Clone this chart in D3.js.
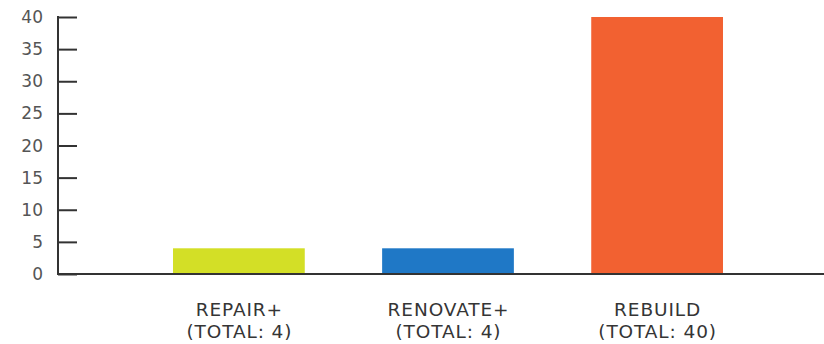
<!DOCTYPE html>
<html>
<head>
<meta charset="utf-8">
<script src="https://cdn.jsdelivr.net/npm/d3@7"></script>
<style>
  html, body { margin: 0; padding: 0; background: #fff; }
  svg { display: block; font-family: 'DejaVu Sans', sans-serif; }
</style>
</head>
<body>
<div id="chart"></div>
<script>
const categories = ['REPAIR+', 'RENOVATE+', 'REBUILD'];
const totals = [4, 4, 40];
const colors = ['#d3df26', '#1f78c6', '#f26131'];
const yTicks = [0, 5, 10, 15, 20, 25, 30, 35, 40];

const width = 824, height = 344;
const margin = { top: 17, right: 0, bottom: 70, left: 58 };
const innerH = height - margin.top - margin.bottom;

const svg = d3.select('#chart').append('svg')
  .attr('width', width)
  .attr('height', height);

const x = d3.scaleBand()
  .domain(categories)
  .range([margin.left, 838])
  .paddingInner(0.37)
  .paddingOuter(0.55);

const y = d3.scaleLinear()
  .domain([0, 40])
  .range([margin.top + innerH, margin.top]);

// bars
svg.selectAll('.bar')
  .data(categories)
  .join('rect')
  .attr('class', 'bar')
  .attr('x', d => x(d))
  .attr('width', x.bandwidth())
  .attr('y', (d, i) => y(totals[i]))
  .attr('height', (d, i) => y(0) - y(totals[i]))
  .attr('fill', (d, i) => colors[i]);

// y axis ticks (pointing inward)
svg.append('g')
  .attr('transform', `translate(${margin.left},0)`)
  .call(d3.axisRight(y).tickValues(yTicks).tickSize(19).tickFormat(''))
  .call(ax => ax.select('.domain').remove())
  .call(ax => ax.selectAll('.tick line').attr('stroke', '#333').attr('stroke-width', 2));

svg.append('line')
  .attr('x1', margin.left).attr('x2', margin.left)
  .attr('y1', y(40) - 1).attr('y2', y(0))
  .attr('stroke', '#333').attr('stroke-width', 2);

svg.append('g')
  .selectAll('text')
  .data(yTicks)
  .join('text')
  .attr('x', 43)
  .attr('y', d => y(d))
  .attr('dy', '0.36em')
  .attr('text-anchor', 'end')
  .attr('font-size', 17)
  .attr('fill', '#555')
  .text(d => d);

// baseline
svg.append('line')
  .attr('x1', margin.left - 1).attr('x2', width)
  .attr('y1', y(0)).attr('y2', y(0))
  .attr('stroke', '#333').attr('stroke-width', 1.8);

// category labels
const cx = d => x(d) + x.bandwidth() / 2 + 0.5;
const labels = svg.append('g')
  .selectAll('text')
  .data(categories)
  .join('text')
  .attr('x', cx)
  .attr('y', 316)
  .attr('text-anchor', 'middle')
  .attr('font-size', 18.5)
  .attr('letter-spacing', 0.9)
  .attr('fill', '#353535');

labels.append('tspan')
  .attr('x', cx)
  .text(d => d);

labels.append('tspan')
  .attr('x', cx)
  .attr('dy', 22)
  .text((d, i) => `(TOTAL: ${totals[i]})`);
</script>
</body>
</html>
